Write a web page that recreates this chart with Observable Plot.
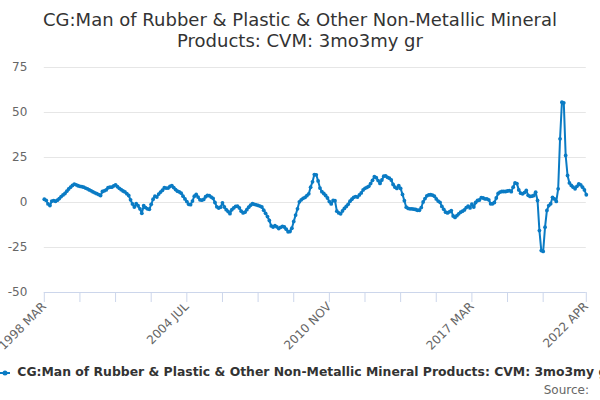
<!DOCTYPE html>
<html>
<head>
<meta charset="utf-8">
<script src="https://cdn.jsdelivr.net/npm/d3@7"></script>
<script src="https://cdn.jsdelivr.net/npm/@observablehq/plot@0.6"></script>
<style>
  html, body { margin: 0; padding: 0; background: #fff; }
  body { width: 600px; height: 400px; overflow: hidden; font-family: "DejaVu Sans", sans-serif; position: relative; }
  #title { padding-top: 9px; height: 47px; text-align: center; font-size: 18px; line-height: 21px; color: #333; }
  #chart svg { display: block; font-family: "DejaVu Sans", sans-serif; }
  #legend { position: absolute; left: 0; top: 364px; width: 600px; height: 18px; overflow: hidden; white-space: nowrap; font-size: 12.4px; font-weight: bold; color: #333; }
  #legend svg { vertical-align: middle; margin-right: 1px; }
  #source { position: absolute; right: 11px; top: 383px; font-size: 12px; color: #666; }
</style>
</head>
<body>
<div id="title">CG:Man of Rubber &amp; Plastic &amp; Other Non-Metallic Mineral<br>Products: CVM: 3mo3my gr</div>
<div id="chart"></div>
<div id="legend"><svg width="12" height="12"><line x1="0" y1="6" x2="10" y2="6" stroke="#0a7bc4" stroke-width="2"/><circle cx="5" cy="6" r="2.5" fill="#0a7bc4"/></svg> CG:Man of Rubber &amp; Plastic &amp; Other Non-Metallic Mineral Products: CVM: 3mo3my gr</div>
<div id="source">Source:</div>
<script>
const seriesName = "CG:Man of Rubber & Plastic & Other Non-Metallic Mineral Products: CVM: 3mo3my gr";
const startLabel = "1998 MAR";
const values = [
  1.8, 1.2, -0.8, -1.7, 0.8, 1.0, 0.7, 1.3, 2.2, 3.3,
  4.2, 5.0, 6.3, 7.5, 8.5, 9.5, 10.2, 9.8, 9.3, 9.0,
  8.8, 8.5, 8.0, 7.6, 7.0, 6.5, 5.9, 5.4, 4.9, 4.4,
  3.9, 6.1, 6.5, 7.0, 8.2, 8.5, 8.5, 9.2, 9.8, 8.8,
  7.9, 7.1, 6.4, 5.9, 4.9, 3.9, 1.5, -0.8, -2.5, -0.7,
  -1.8, -3.5, -6.0, -1.8, -2.8, -3.5, -3.8, -1.0, 1.8, 3.5,
  3.0, 4.7, 5.8, 6.8, 8.2, 8.0, 8.0, 8.9, 9.4, 8.3,
  7.2, 6.3, 5.9, 5.2, 3.5, 2.0, 0.5, -1.0, -1.2, 0.8,
  3.5, 4.5, 3.0, 1.5, 1.3, 1.7, 3.2, 3.9, 3.8, 3.0,
  2.3, 0.0, -2.4, -3.1, -2.6, -0.2, -2.5, -4.0, -5.0, -6.2,
  -4.0, -3.0, -2.2, -2.0, -3.0, -4.8, -5.8, -5.4, -4.0, -2.6,
  -1.5, -0.7, -1.0, -1.3, -1.6, -2.0, -2.5, -4.3, -6.0, -7.8,
  -10.0, -13.0, -13.6, -12.9, -13.5, -14.5, -13.8, -13.3, -13.6, -14.8,
  -16.3, -16.1, -14.3, -10.5, -7.0, -3.5, 0.4, 1.5, 2.3, 2.8,
  3.8, 4.8, 8.5, 11.5, 15.5, 15.4, 12.0, 8.0, 6.0, 5.0,
  3.9, 2.5, 0.5, -0.8, 1.1, 1.0, -4.8, -5.8, -6.3, -4.7,
  -3.3, -2.2, -1.0, 0.7, 1.8, 2.9, 3.3, 3.0, 4.2, 5.3,
  7.0, 7.9, 8.4, 9.0, 10.5, 12.3, 14.3, 13.8, 12.2, 10.6,
  12.5, 14.6, 14.8, 14.0, 13.5, 12.5, 10.0, 8.5, 7.8, 9.3,
  7.8, 4.5, 1.0, -2.6, -3.3, -3.5, -3.5, -3.7, -3.9, -4.3,
  -4.3, -2.8, 0.3, 2.2, 3.7, 4.2, 4.3, 4.1, 3.5, 2.0,
  0.8, 0.1, -2.2, -3.8, -5.4, -5.8, -5.2, -4.5, -7.5, -8.3,
  -7.3, -6.3, -5.4, -4.8, -4.1, -2.8, -2.0, -3.0, -0.9, -2.5,
  0.0, 1.1, 1.4, 2.7, 2.5, 2.0, 2.0, 1.5, -0.7, -0.7,
  0.0, 2.5, 5.0, 5.8, 6.1, 6.1, 6.1, 6.4, 6.6, 6.0,
  8.5, 10.9, 10.5, 7.0, 5.2, 4.8, 5.5, 6.7, 4.0, 3.4,
  3.5, 3.9, 5.7, 1.1, -15.6, -26.7, -27.2, -13.7, -4.4, -1.7,
  -0.7, 2.9, 2.0, 0.6, 7.6, 35.4, 55.7, 55.4, 26.1, 15.0,
  10.9, 9.5, 8.5, 7.6, 9.0, 10.4, 9.8, 8.5, 7.0, 4.3
];
const tickIndex = [0, 19, 38, 57, 76, 95, 114, 133, 152, 171, 190, 209, 228, 247, 266, 289];
const labelIndex = [0, 76, 152, 228, 289];
const tickLabels = ["1998 MAR", "2004 JUL", "2010 NOV", "2017 MAR", "2022 APR"];
const yTicks = [-50, -25, 0, 25, 50, 75];

const labelMap = new Map(labelIndex.map((d, i) => [d, tickLabels[i]]));
const data = values.map((v, i) => ({i, v}));
const color = "#0a7bc4";

const chart = Plot.plot({
  width: 600,
  height: 300,
  marginTop: 11,
  marginBottom: 64,
  marginLeft: 43.8,
  marginRight: 14.2,
  style: {fontFamily: "DejaVu Sans, sans-serif", background: "#fff", overflow: "visible"},
  x: {type: "linear", domain: [0, values.length - 1], label: null},
  y: {domain: [-50, 75], label: null},
  marks: [
    Plot.ruleY(yTicks.filter(d => d !== -50), {stroke: "#e6e6e6", strokeWidth: 1}),
    Plot.ruleY([-50], {stroke: "#ccd6eb", strokeWidth: 1}),
    Plot.axisY({ticks: yTicks, label: null, tickSize: 0, tickPadding: 17, fill: "#666", fontSize: 12, tickFormat: d => String(d)}),
    Plot.axisX({ticks: tickIndex, label: null, tickSize: 10, stroke: "#ccd6eb", fill: "#666", fontSize: 12, tickRotate: -45, tickPadding: 2, tickFormat: d => labelMap.get(d) ?? ""}),
    Plot.line(data, {x: "i", y: "v", stroke: color, strokeWidth: 2, strokeLinejoin: "round"}),
    Plot.dot(data, {x: "i", y: "v", r: 1.9, fill: color, stroke: "none"})
  ]
});
document.getElementById("chart").appendChild(chart);
</script>
</body>
</html>
